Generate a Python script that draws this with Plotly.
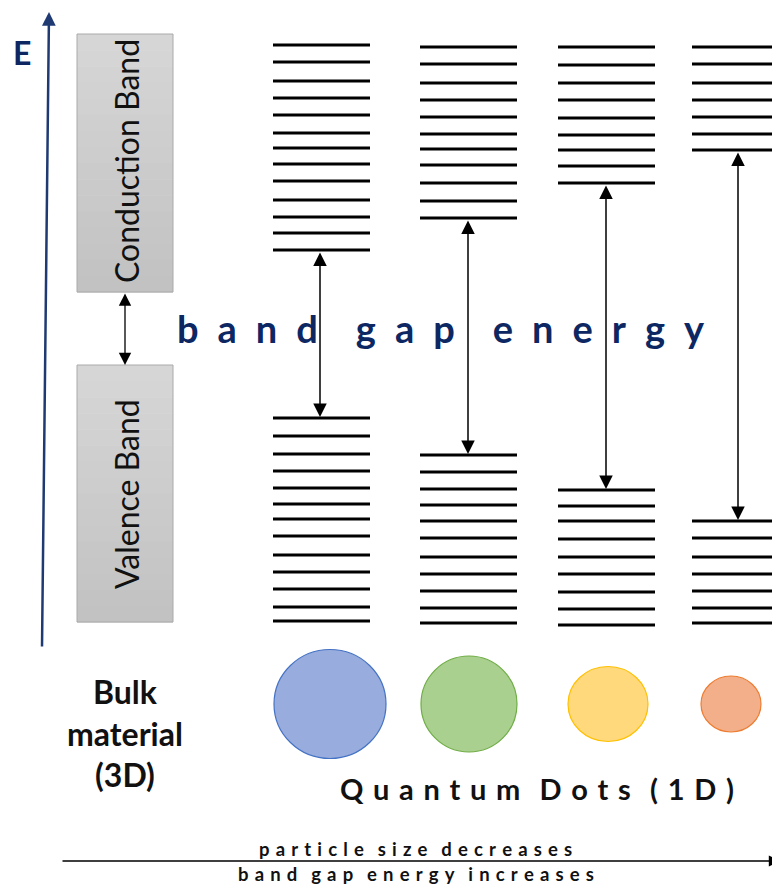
import plotly.graph_objects as go

# ---- data ----
dot_labels = ["QD1", "QD2", "QD3", "QD4"]
cb_levels = [
    [45, 62, 81, 98, 115, 133, 148, 164, 181, 200, 217, 233, 250],
    [47, 64, 83, 100, 117, 134, 149, 165, 183, 201, 218],
    [47, 65, 83, 100, 118, 135, 150, 166, 183],
    [47, 64, 83, 100, 117, 134, 150],
]
vb_levels = [
    [418, 436, 454, 471, 488, 504, 519, 536, 555, 572, 589, 607, 621],
    [455, 472, 489, 505, 521, 538, 557, 574, 591, 608, 623],
    [490, 506, 521, 539, 557, 574, 592, 609, 625],
    [521, 538, 557, 574, 591, 608, 623],
]
dot_w = [112, 96, 80, 60]
dot_h = [109, 96, 75, 56]
dot_fill = ["#98acdd", "#a9d08f", "#ffd97c", "#f3ae8a"]
dot_line = ["#4472c4", "#70ad47", "#ffc000", "#ed7d31"]

# ---- layout constants ----
col_x0 = [273, 420, 558, 692]
col_x1 = [370, 517, 655, 790]
arrow_x = [320, 468, 606, 738]
dot_cx = [330, 469, 608, 731]
dot_cy = 704
boxes = [(77, 173, 34, 292), (77, 173, 365, 622)]

NAVY = "#0d2763"
AXIS_NAVY = "#1f3a73"
FONT = "Lato"
EN = "\u2002"
EM = "\u2003"
THIRD = "\u2004"


def spaced(s, gap, wordgap):
    words = s.split(" ")
    return wordgap.join(gap.join(w) for w in words)


fig = go.Figure()

# energy levels
for i in range(4):
    xs, ys = [], []
    for y in cb_levels[i] + vb_levels[i]:
        xs += [col_x0[i], col_x1[i], None]
        ys += [y, y, None]
    fig.add_trace(go.Scatter(x=xs, y=ys, mode="lines",
                             line=dict(color="black", width=3),
                             hoverinfo="skip", showlegend=False,
                             name=dot_labels[i]))

shapes = []
annotations = []

# bulk boxes with a light vertical gradient
NSTRIP = 16
for (bx0, bx1, by0, by1) in boxes:
    h = (by1 - by0) / NSTRIP
    for k in range(NSTRIP):
        t = k / (NSTRIP - 1)
        v = int(round(0xd6 + (0xc2 - 0xd6) * t))
        col = "#%02x%02x%02x" % (v, v, v)
        shapes.append(dict(type="rect", x0=bx0, x1=bx1, y0=by0 + k * h, y1=by0 + (k + 1) * h + 0.5,
                           fillcolor=col, line=dict(width=0), layer="below"))
    shapes.append(dict(type="rect", x0=bx0, x1=bx1, y0=by0, y1=by1,
                       fillcolor="rgba(0,0,0,0)", line=dict(color="#aaaaaa", width=1), layer="below"))

annotations.append(dict(x=126, y=161, text="Conduction Band", textangle=-90, showarrow=False,
                        font=dict(family=FONT, size=32, color="#111111")))
annotations.append(dict(x=126, y=494, text="Valence Band", textangle=-90, showarrow=False,
                        font=dict(family=FONT, size=32, color="#111111")))

# bulk gap arrow
annotations.append(dict(x=125, y=365, ax=125, ay=292, axref="x", ayref="y", xref="x", yref="y",
                        text="", showarrow=True, arrowhead=2, arrowside="end+start",
                        arrowsize=1.9, arrowwidth=1.3, arrowcolor="black", standoff=0, startstandoff=0))

# QD gap arrows
for i in range(4):
    top = max(cb_levels[i])
    bot = min(vb_levels[i])
    annotations.append(dict(x=arrow_x[i], y=bot - 1, ax=arrow_x[i], ay=top + 1, axref="x", ayref="y",
                            xref="x", yref="y", text="", showarrow=True, arrowhead=2,
                            arrowside="end+start", arrowsize=1.8, arrowwidth=1.5,
                            arrowcolor="black", standoff=0, startstandoff=0))

# E axis
annotations.append(dict(x=49, y=12, ax=42, ay=648, axref="x", ayref="y", xref="x", yref="y",
                        text="", showarrow=True, arrowhead=2, arrowsize=1.1, arrowwidth=2.5,
                        arrowcolor=AXIS_NAVY, standoff=0))
annotations.append(dict(x=22, y=52, text="<b>E</b>", showarrow=False,
                        font=dict(family=FONT, size=32, color=NAVY)))

# band gap energy label
annotations.append(dict(x=441, y=328, text="<b>" + spaced("band gap energy", EN, EM + "\u2005") + "</b>",
                        showarrow=False, font=dict(family=FONT, size=38, color=NAVY)))

# dots
for i in range(4):
    shapes.append(dict(type="circle", x0=dot_cx[i] - dot_w[i] / 2, x1=dot_cx[i] + dot_w[i] / 2,
                       y0=dot_cy - dot_h[i] / 2, y1=dot_cy + dot_h[i] / 2,
                       fillcolor=dot_fill[i], line=dict(color=dot_line[i], width=1.2)))

annotations.append(dict(x=125, y=733, text="<b>Bulk<br>material<br>(3D)</b>", showarrow=False,
                        font=dict(family=FONT, size=32, color="#111111")))
annotations.append(dict(x=537, y=788, text="<b>" + spaced("Quantum Dots (1D)", THIRD, THIRD * 2) + "</b>",
                        showarrow=False, font=dict(family=FONT, size=29, color="#111111")))

# bottom arrow
annotations.append(dict(x=780, y=861, ax=61, ay=861, axref="x", ayref="y", xref="x", yref="y",
                        text="", showarrow=True, arrowhead=2, arrowsize=1.4, arrowwidth=1.6,
                        arrowcolor="black", standoff=0))
annotations.append(dict(x=415, y=849, text="<b>" + spaced("particle size decreases", THIRD, EM) + "</b>",
                        showarrow=False, font=dict(family=FONT, size=18.5, color="#111111")))
annotations.append(dict(x=416, y=874, text="<b>" + spaced("band gap energy increases", THIRD, EM) + "</b>",
                        showarrow=False, font=dict(family=FONT, size=18.5, color="#111111")))

# the page body adds an 8px margin; shift the axes so data units equal window pixels
fig.update_layout(
    width=772, height=877,
    margin=dict(l=0, r=0, t=0, b=0),
    paper_bgcolor="white", plot_bgcolor="white",
    xaxis=dict(range=[8, 780], visible=False, fixedrange=True),
    yaxis=dict(range=[885, 8], visible=False, fixedrange=True),
    shapes=shapes, annotations=annotations, showlegend=False,
)

fig.write_html("out.html")
